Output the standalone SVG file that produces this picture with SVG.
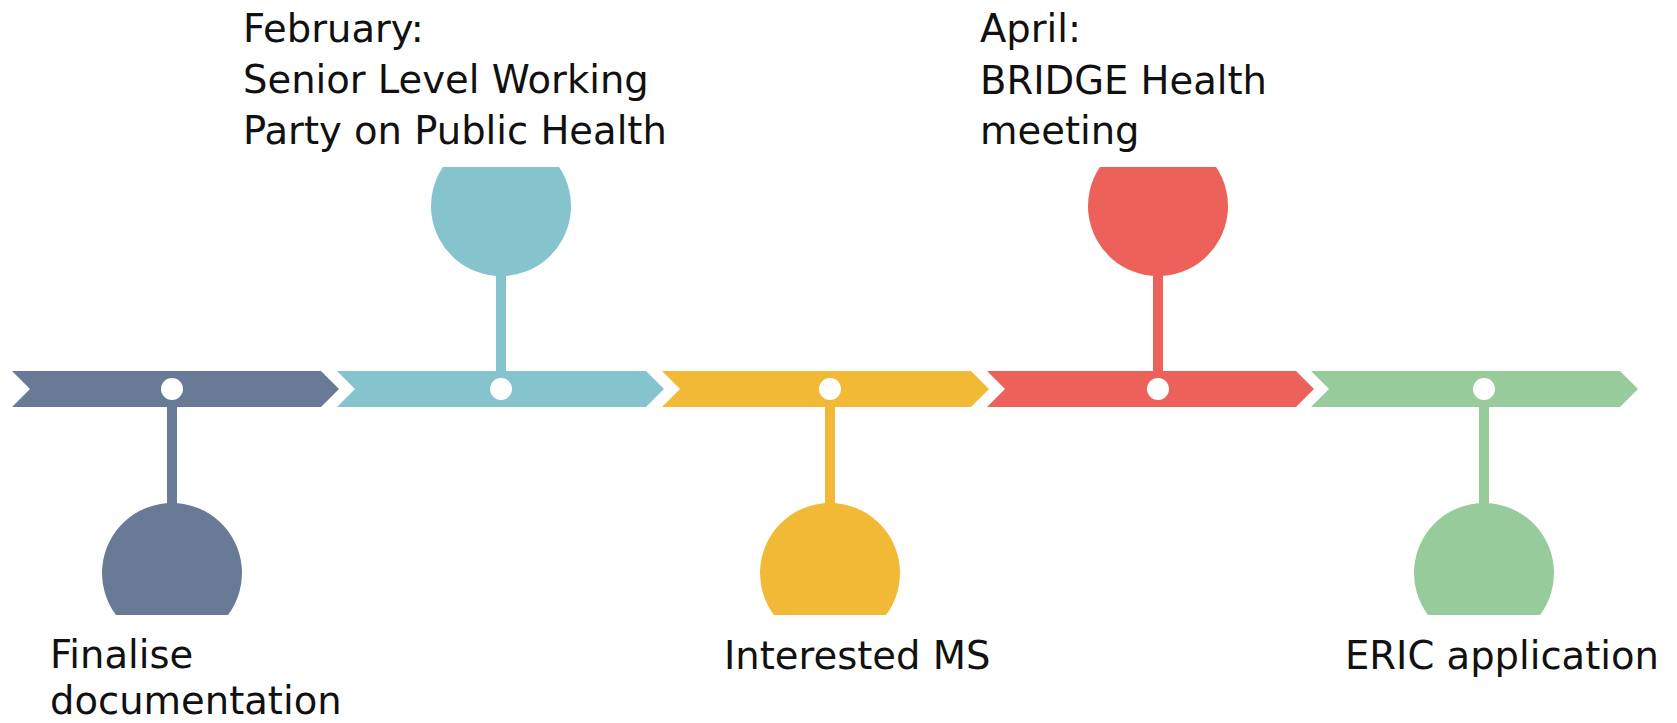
<svg xmlns="http://www.w3.org/2000/svg" width="1677" height="723" viewBox="0 0 1677 723">
  <style>
    .lbl { font-family: "DejaVu Sans", "Liberation Sans", sans-serif; font-size: 38.5px; fill: #111111; }
    .dot { fill: #ffffff; }
    .c1 { fill: #687a96; }
    .c2 { fill: #85c4cc; }
    .c3 { fill: #f2b936; }
    .c4 { fill: #ec625a; }
    .c5 { fill: #98cb9b; }
  </style>
  <defs>
    <polygon id="chev" points="0,371 309,371 327,389 309,407 0,407 18,389"/>
    <path id="topBall" d="M -58.1,167 A 70 70 0 1 0 58.1,167 Z"/>
    <path id="botBall" d="M -56,615 A 70 70 0 1 1 56,615 Z"/>
  </defs>
  <rect width="1677" height="723" fill="#ffffff"/>

  <g id="timeline">
    <use href="#chev" x="12" class="c1"/>
    <use href="#chev" x="337" class="c2"/>
    <use href="#chev" x="662" class="c3"/>
    <use href="#chev" x="987" class="c4"/>
    <use href="#chev" x="1311" class="c5"/>
  </g>

  <g id="connectors">
    <rect x="167" y="389" width="10" height="125" class="c1"/>
    <rect x="496" y="265" width="10" height="124" class="c2"/>
    <rect x="825" y="389" width="10" height="125" class="c3"/>
    <rect x="1153" y="265" width="10" height="124" class="c4"/>
    <rect x="1479" y="389" width="10" height="125" class="c5"/>
  </g>

  <g id="node-finalise">
    <circle cx="172" cy="389" r="11" class="dot"/>
    <use href="#botBall" x="172" class="c1"/>
    <text class="lbl" x="50" y="668">Finalise</text>
    <text class="lbl" x="50" y="714">documentation</text>
  </g>

  <g id="node-february">
    <circle cx="501" cy="389" r="11" class="dot"/>
    <use href="#topBall" x="501" class="c2"/>
    <text class="lbl" x="243" y="42">February:</text>
    <text class="lbl" x="243" y="93">Senior Level Working</text>
    <text class="lbl" x="243" y="144">Party on Public Health</text>
  </g>

  <g id="node-interested">
    <circle cx="830" cy="389" r="11" class="dot"/>
    <use href="#botBall" x="830" class="c3"/>
    <text class="lbl" x="724" y="669">Interested MS</text>
  </g>

  <g id="node-april">
    <circle cx="1158" cy="389" r="11" class="dot"/>
    <use href="#topBall" x="1158" class="c4"/>
    <text class="lbl" x="980" y="42">April:</text>
    <text class="lbl" x="980" y="94">BRIDGE Health</text>
    <text class="lbl" x="980" y="144">meeting</text>
  </g>

  <g id="node-eric">
    <circle cx="1484" cy="389" r="11" class="dot"/>
    <use href="#botBall" x="1484" class="c5"/>
    <text class="lbl" x="1345" y="669">ERIC application</text>
  </g>
</svg>
